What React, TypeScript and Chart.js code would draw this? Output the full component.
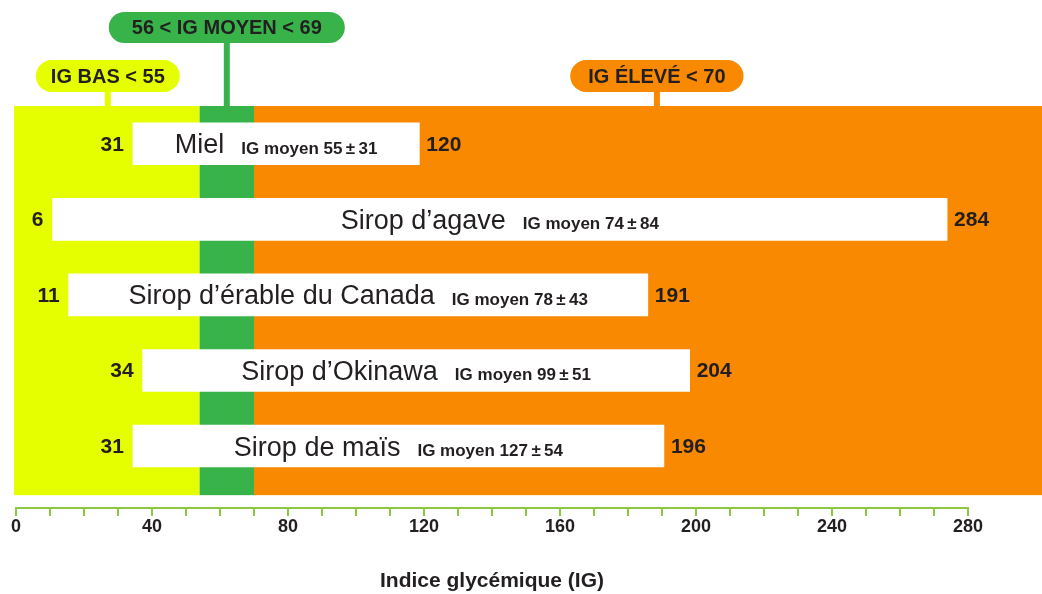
import React, { useEffect, useRef } from 'react';
import { Chart, registerables } from 'chart.js';

Chart.register(...registerables);

// ---- Data ----
const categories = ['Miel', 'Sirop d’agave', 'Sirop d’érable du Canada', 'Sirop d’Okinawa', 'Sirop de maïs'];
const minValues = [31, 6, 11, 34, 31];
const maxValues = [120, 284, 191, 204, 196];
const meanValues = [55, 74, 78, 99, 127];
const meanSpread = [31, 84, 43, 51, 54];
const xTickLabels = [0, 40, 80, 120, 160, 200, 240, 280];
const bandLabels = ['IG BAS < 55', '56 < IG MOYEN < 69', 'IG ÉLEVÉ < 70'];
const bandStarts = [0, 54, 70];
const bandEnds = [54, 70, 307];

// ---- Styles ----
const FONT = "'Liberation Sans', Arial, Helvetica, sans-serif";
const TEXT = '#231f20';
const AXIS_GREEN = '#8dc63f';
const bandColors = ['#e5ff00', '#37b34a', '#f98900'];
const bandCalloutRow = [1, 0, 1];
const bandCalloutPad = [15, 23, 18];
const BAND_BOTTOM = 4.65;

const bandPlugin = {
  id: 'bands',
  beforeDatasetsDraw(chart: any) {
    const { ctx, chartArea, scales } = chart;
    const xs = scales.x;
    const ys = scales.y;
    const top = chartArea.top;
    const bottom = ys.getPixelForValue(BAND_BOTTOM);
    ctx.save();
    bandStarts.forEach((s, i) => {
      const x0 = i === 0 ? chartArea.left - 2 : xs.getPixelForValue(s);
      const x1 = i === bandStarts.length - 1 ? chart.width : xs.getPixelForValue(bandEnds[i]);
      ctx.fillStyle = bandColors[i];
      ctx.fillRect(x0, top, x1 - x0, bottom - top);
    });
    // callouts
    ctx.font = `bold 20px ${FONT}`;
    bandLabels.forEach((label, i) => {
      const cx = xs.getPixelForValue((bandStarts[i] + bandEnds[i]) / 2);
      const row = bandCalloutRow[i];
      const h = row === 1 ? 32 : 31;
      const pillBottom = row === 1 ? top - 14 : top - 63;
      const pillTop = pillBottom - h;
      const tw = ctx.measureText(label).width;
      const w = tw + 2 * bandCalloutPad[i];
      ctx.fillStyle = bandColors[i];
      ctx.fillRect(cx - 3, pillBottom - 2, 6, top - pillBottom + 2);
      ctx.beginPath();
      if ((ctx as any).roundRect) {
        (ctx as any).roundRect(cx - w / 2, pillTop, w, h, h / 2);
      } else {
        ctx.rect(cx - w / 2, pillTop, w, h);
      }
      ctx.fill();
      ctx.fillStyle = TEXT;
      ctx.textAlign = 'center';
      ctx.textBaseline = 'middle';
      ctx.fillText(label, cx, pillTop + h / 2 + 1);
    });
    ctx.restore();
  },
};

const labelPlugin = {
  id: 'barLabels',
  afterDatasetsDraw(chart: any) {
    const { ctx } = chart;
    const meta = chart.getDatasetMeta(0);
    ctx.save();
    meta.data.forEach((el: any, i: number) => {
      const left = Math.min(el.x, el.base);
      const right = Math.max(el.x, el.base);
      const cy = el.y;
      ctx.fillStyle = TEXT;
      ctx.textBaseline = 'middle';
      ctx.font = `bold 21px ${FONT}`;
      ctx.textAlign = 'right';
      ctx.fillText(String(minValues[i]), left - 9, cy + 1);
      ctx.textAlign = 'left';
      ctx.fillText(String(maxValues[i]), right + 7, cy + 1);

      const name = categories[i];
      const info = `IG moyen ${meanValues[i]}\u2009±\u2009${meanSpread[i]}`;
      ctx.font = `27px ${FONT}`;
      const nw = ctx.measureText(name).width;
      ctx.font = `bold 17px ${FONT}`;
      const iw = ctx.measureText(info).width;
      const gap = 17;
      const total = nw + gap + iw;
      const start = (left + right) / 2 - total / 2;
      ctx.textBaseline = 'alphabetic';
      ctx.textAlign = 'left';
      ctx.font = `27px ${FONT}`;
      ctx.fillText(name, start, cy + 9.5);
      ctx.font = `bold 17px ${FONT}`;
      ctx.fillText(info, start + nw + gap, cy + 10);
    });
    ctx.restore();
  },
};

export default function App() {
  const ref = useRef<HTMLCanvasElement | null>(null);
  useEffect(() => {
    if (!ref.current) return;
    const chart = new Chart(ref.current, {
      type: 'bar',
      data: {
        datasets: [
          {
            data: categories.map((_, i) => ({ x: [minValues[i], maxValues[i]], y: i })) as any,
            backgroundColor: '#ffffff',
            borderWidth: 0,
            barThickness: 42,
            xAxisID: 'x2',
            yAxisID: 'y',
          },
        ],
      },
      options: {
        indexAxis: 'y',
        responsive: false,
        maintainAspectRatio: false,
        animation: false,
        layout: { padding: { left: 16, right: 74, top: 106, bottom: 0 } },
        plugins: {
          legend: { display: false },
          tooltip: { enabled: false },
        },
        scales: {
          y: {
            type: 'linear',
            display: false,
            reverse: true,
            offset: false,
            grid: { offset: false },
            min: -0.5,
            max: 4.82,
          },
          x: {
            type: 'linear',
            position: 'bottom',
            min: 0,
            max: 280,
            ticks: {
              stepSize: 10,
              autoSkip: false,
              maxRotation: 0,
              padding: 0,
              color: TEXT,
              font: { family: FONT, size: 18, weight: 'bold' },
              callback: (v: any) => (xTickLabels.includes(Number(v)) ? String(v) : ''),
            },
            grid: {
              drawOnChartArea: false,
              drawTicks: true,
              tickLength: 8,
              color: AXIS_GREEN,
              lineWidth: 2,
            },
            border: { display: true, color: AXIS_GREEN, width: 2 },
            title: {
              display: true,
              text: 'Indice glycémique (IG)',
              color: TEXT,
              font: { family: FONT, size: 21, weight: 'bold' },
              padding: { top: 0, bottom: 0 },
            },
            afterFit: (s: any) => {
              s.height = 86;
            },
          } as any,
          x2: {
            type: 'linear',
            axis: 'x',
            display: false,
            offset: false,
            min: -5.35,
            max: 290.5,
          } as any,
        },
      } as any,
      plugins: [bandPlugin, labelPlugin],
    });
    return () => chart.destroy();
  }, []);
  return (
    <div style={{ position: 'absolute', left: 0, top: 0, width: 1042, height: 594 }}>
      <canvas ref={ref} width={1042} height={594} />
    </div>
  );
}
